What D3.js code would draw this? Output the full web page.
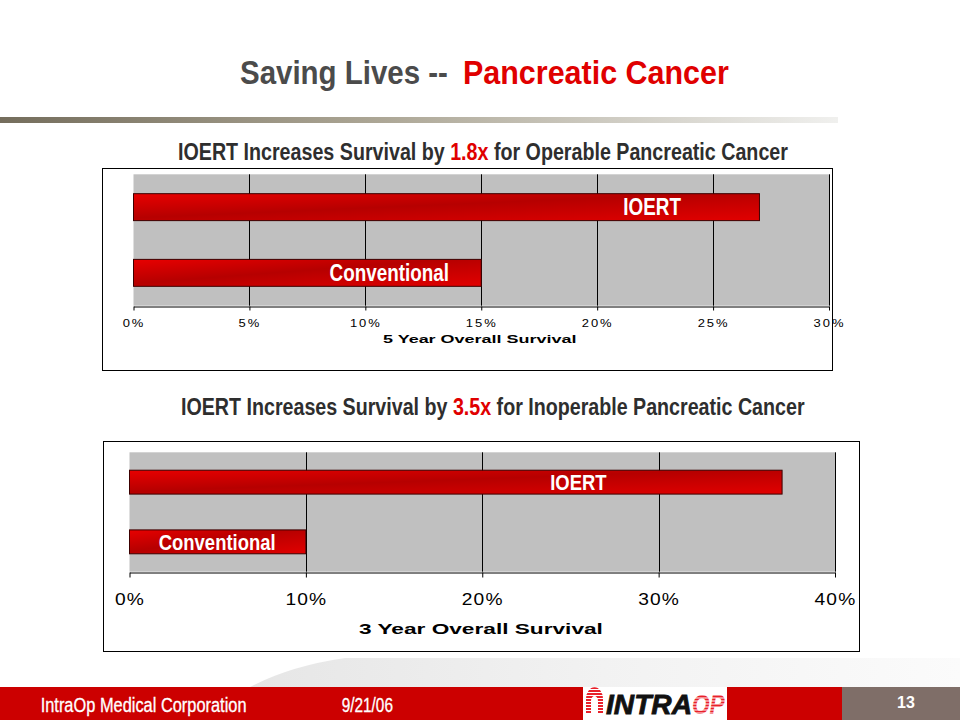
<!DOCTYPE html>
<html><head><meta charset="utf-8">
<script src="https://cdn.jsdelivr.net/npm/d3@7/dist/d3.min.js"></script>
<style>body{margin:0;background:#fff}svg{display:block}</style>
</head><body>
<script>
// ---------- data ----------
const categories1 = ["IOERT", "Conventional"];
const values1 = [27, 15];
const ticks1 = [0, 5, 10, 15, 20, 25, 30];
const axisTitle1 = "5 Year Overall Survival";

const categories2 = ["IOERT", "Conventional"];
const values2 = [37, 10];
const ticks2 = [0, 10, 20, 30, 40];
const axisTitle2 = "3 Year Overall Survival";

const titleParts = ["Saving Lives --", "Pancreatic Cancer"];
const subtitle1Parts = ["IOERT Increases Survival by ", "1.8x", " for Operable Pancreatic Cancer"];
const subtitle2Parts = ["IOERT Increases Survival by ", "3.5x", " for Inoperable Pancreatic Cancer"];
const footerTexts = ["IntraOp Medical Corporation", "9/21/06", "13"];
const logoParts = ["INTRA", "OP"];

// ---------- layout ----------
const W = 960, H = 720;
const FONT = "'Liberation Sans', Arial, sans-serif";
const RED = "#e00000";

const svg = d3.select("body").append("svg").attr("width", W).attr("height", H);
const defs = svg.append("defs");

const bg = defs.append("linearGradient").attr("id", "barGrad")
  .attr("x1", 0).attr("y1", 0).attr("x2", 1).attr("y2", 1);
bg.append("stop").attr("offset", 0).attr("stop-color", "#e80000");
bg.append("stop").attr("offset", 0.45).attr("stop-color", "#b60000");
bg.append("stop").attr("offset", 1).attr("stop-color", "#e20000");

const sep = defs.append("linearGradient").attr("id", "sepGrad");
sep.append("stop").attr("offset", 0).attr("stop-color", "#746d5c");
sep.append("stop").attr("offset", 0.45).attr("stop-color", "#aca695");
sep.append("stop").attr("offset", 1).attr("stop-color", "#f0f0ee");

const sw = defs.append("linearGradient").attr("id", "swoosh");
sw.append("stop").attr("offset", 0).attr("stop-color", "#e6e6e6");
sw.append("stop").attr("offset", 0.5).attr("stop-color", "#f2f2f2");
sw.append("stop").attr("offset", 1).attr("stop-color", "#fbfbfb");

const pat = defs.append("pattern").attr("id", "stripes").attr("patternUnits", "userSpaceOnUse")
  .attr("width", 4).attr("height", 3);
pat.append("rect").attr("width", 4).attr("height", 3).attr("fill", "#fff");
pat.append("rect").attr("width", 4).attr("height", 2).attr("fill", "#e8202a");

// helper: place text between x0..x1 at baseline y by horizontal scaling
function fitText(sel, x0, x1, y) {
  const w = sel.node().getBBox().width;
  sel.attr("x", 0).attr("y", 0).attr("text-anchor", "start")
     .attr("transform", `translate(${x0},${y}) scale(${(x1 - x0) / w},1)`);
  return sel;
}

// swoosh shadow above footer
svg.append("path")
  .attr("d", "M250,687 Q290,666 345,658 L960,658 L960,687 Z")
  .attr("fill", "url(#swoosh)");

// ---------- title ----------
const t1 = svg.append("text").attr("font-family", FONT).attr("font-size", 33).attr("font-weight", "bold")
  .attr("fill", "#4b4b4b").text(titleParts[0]);
fitText(t1, 240, 448, 84);
const t2 = svg.append("text").attr("font-family", FONT).attr("font-size", 33).attr("font-weight", "bold")
  .attr("fill", RED).text(titleParts[1]);
fitText(t2, 463, 729, 84);

svg.append("rect").attr("x", 0).attr("y", 117).attr("width", 838).attr("height", 6)
  .attr("fill", "url(#sepGrad)");

function subtitle(parts, x0, x1, y) {
  const t = svg.append("text").attr("font-family", FONT).attr("font-size", 24)
    .attr("font-weight", "bold").attr("fill", "#2e2e2e");
  parts.forEach((p, i) => t.append("tspan").attr("fill", i === 1 ? RED : "#2e2e2e").text(p));
  fitText(t, x0, x1, y);
}
subtitle(subtitle1Parts, 178, 788, 160);
subtitle(subtitle2Parts, 181, 805, 415);

// ---------- charts ----------
function barChart(cfg) {
  const g = svg.append("g");
  g.append("rect").attr("x", cfg.box[0]).attr("y", cfg.box[1])
    .attr("width", cfg.box[2] - cfg.box[0]).attr("height", cfg.box[3] - cfg.box[1])
    .attr("fill", "#fff").attr("stroke", "#000").attr("stroke-width", 1);

  const x = d3.scaleLinear().domain([cfg.ticks[0], cfg.ticks[cfg.ticks.length - 1]])
    .range([cfg.plot[0], cfg.plot[1]]);
  const y = d3.scaleBand().domain(cfg.categories).range([cfg.plot[2], cfg.plot[3]])
    .paddingInner(cfg.pad).paddingOuter(cfg.pad / 2);

  g.append("rect").attr("x", cfg.plot[0]).attr("y", cfg.plot[2])
    .attr("width", cfg.plot[1] - cfg.plot[0]).attr("height", cfg.plot[3] - cfg.plot[2])
    .attr("fill", "#c0c0c0");

  g.selectAll("line.grid").data(cfg.ticks.slice(1)).join("line")
    .attr("x1", d => Math.round(x(d)) + 0.5).attr("x2", d => Math.round(x(d)) + 0.5)
    .attr("y1", cfg.plot[2]).attr("y2", cfg.plot[3])
    .attr("stroke", "#000").attr("stroke-width", 1);

  g.selectAll("rect.bar").data(cfg.values).join("rect")
    .attr("x", x(0)).attr("y", (d, i) => y(cfg.categories[i]))
    .attr("width", d => x(d) - x(0)).attr("height", y.bandwidth())
    .attr("fill", "url(#barGrad)").attr("stroke", "#3c0000").attr("stroke-width", 1);

  const axis = d3.axisBottom(x).tickValues(cfg.ticks).tickFormat(d => d + "%")
    .tickSizeInner(cfg.tickLen).tickSizeOuter(0);
  const ag = g.append("g").attr("transform", `translate(0,${Math.round(cfg.plot[3]) + 0.5})`).call(axis);
  ag.select(".domain").attr("stroke", "#000");
  ag.selectAll(".tick line").attr("stroke", "#000");
  ag.selectAll(".tick text").attr("font-family", FONT).attr("font-size", cfg.tickFont)
    .attr("fill", "#000").attr("dy", null).attr("y", cfg.tickBase)
    .attr("letter-spacing", cfg.tickSpacing)
    .attr("transform", `scale(${cfg.tickScale},1)`);

  const at = g.append("text").attr("font-family", FONT).attr("font-weight", "bold")
    .attr("font-size", cfg.titleFont).attr("fill", "#000").text(cfg.axisTitle);
  fitText(at, cfg.titleSpan[0], cfg.titleSpan[1], cfg.titleBase);

  g.selectAll("text.lbl").data(cfg.categories).join("text")
    .attr("font-family", FONT).attr("font-weight", "bold").attr("font-size", cfg.lblFont)
    .attr("fill", "#fff").attr("text-anchor", "middle")
    .attr("transform", (d, i) => `translate(${x(cfg.labelAt[i])},${y(d) + y.bandwidth() / 2 + cfg.lblFont * 0.36}) scale(0.82,1)`)
    .text(d => d);
}

barChart({
  categories: categories1, values: values1, ticks: ticks1, axisTitle: axisTitle1,
  box: [102.5, 168.5, 832.5, 370.5], plot: [133.5, 829, 174.3, 305.7], pad: 0.59,
  tickLen: 4, tickFont: 10, tickScale: 1.3, tickSpacing: 1.5, tickBase: 21,
  titleFont: 10, titleSpan: [383, 577], titleBase: 343,
  lblFont: 23, labelAt: [22.37, 11.03]
});

barChart({
  categories: categories2, values: values2, ticks: ticks2, axisTitle: axisTitle2,
  box: [103.5, 441.5, 859.5, 651.5], plot: [129.5, 835, 452.3, 571.7], pad: 0.6,
  tickLen: 5, tickFont: 16, tickScale: 1.2, tickSpacing: 1, tickBase: 33,
  titleFont: 15.5, titleSpan: [359, 603], titleBase: 634,
  lblFont: 22.5, labelAt: [25.45, 4.97]
});

// ---------- footer ----------
svg.append("rect").attr("x", 0).attr("y", 687).attr("width", 583).attr("height", 33).attr("fill", "#cc0000");
svg.append("rect").attr("x", 583).attr("y", 687).attr("width", 144).attr("height", 33).attr("fill", "#fff");
svg.append("rect").attr("x", 727).attr("y", 687).attr("width", 115).attr("height", 33).attr("fill", "#cc0000");
svg.append("rect").attr("x", 842).attr("y", 687).attr("width", 118).attr("height", 33).attr("fill", "#7f6e68");

const f1 = svg.append("text").attr("font-family", FONT).attr("font-size", 19.5).attr("fill", "#fff")
  .attr("stroke", "#fff").attr("stroke-width", 0.3).text(footerTexts[0]);
fitText(f1, 40.7, 246.7, 712);
const f2 = svg.append("text").attr("font-family", FONT).attr("font-size", 19.5).attr("fill", "#fff")
  .attr("stroke", "#fff").attr("stroke-width", 0.3).text(footerTexts[1]);
fitText(f2, 341.7, 393, 712);
svg.append("text").attr("font-family", FONT).attr("font-size", 16).attr("font-weight", "bold")
  .attr("fill", "#fff").attr("text-anchor", "middle").attr("x", 906).attr("y", 708).text(footerTexts[2]);

// logo
svg.append("path")
  .attr("d", "M586,714 L586,699 A8,11 0 0 1 603,699 L603,714 L598,714 L598,701 A3.5,5 0 0 0 591,701 L591,714 Z")
  .attr("fill", "url(#stripes)");
const l1 = svg.append("text").attr("font-family", FONT).attr("font-size", 28).attr("font-weight", "bold")
  .attr("font-style", "italic").attr("fill", "#111").attr("stroke", "#111").attr("stroke-width", 0.8).text(logoParts[0]);
fitText(l1, 606, 692, 713.5);
const l2 = svg.append("text").attr("font-family", FONT).attr("font-size", 28).attr("font-weight", "bold")
  .attr("font-style", "italic").attr("fill", "url(#stripes)").text(logoParts[1]);
fitText(l2, 692, 725, 713.5);
</script>
</body></html>
